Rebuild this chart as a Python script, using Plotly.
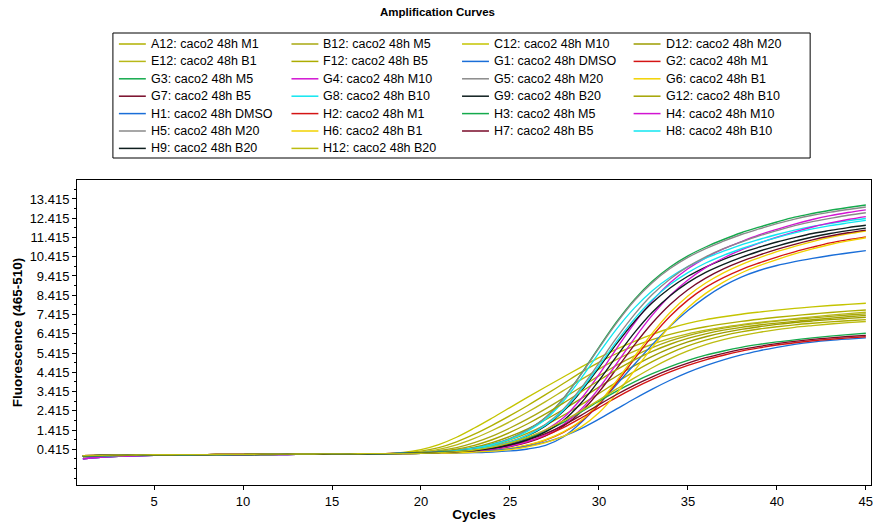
import plotly.graph_objects as go

# ---------------------------------------------------------------------------
# qPCR amplification data: fluorescence (465-510) per cycle, one list per well
# ---------------------------------------------------------------------------
CYCLES = list(range(1, 46))

X_TICKS = [5, 10, 15, 20, 25, 30, 35, 40, 45]
Y_TICKS = [0.415, 1.415, 2.415, 3.415, 4.415, 5.415, 6.415, 7.415,
           8.415, 9.415, 10.415, 11.415, 12.415, 13.415]
Y_TICK_LABELS = ["0.415", "1.415", "2.415", "3.415", "4.415", "5.415", "6.415",
                 "7.415", "8.415", "9.415", "10.415", "11.415", "12.415", "13.415"]

A12 = [0.06, 0.09, 0.10, 0.11, 0.12, 0.12, 0.13, 0.13, 0.14, 0.14, 0.15, 0.15, 0.16, 0.16, 0.16,
       0.17, 0.17, 0.18, 0.22, 0.32, 0.50, 0.80, 1.20, 1.66, 2.16, 2.69, 3.25, 3.83, 4.41, 4.93,
       5.39, 5.78, 6.11, 6.38, 6.60, 6.78, 6.93, 7.06, 7.17, 7.27, 7.36, 7.44, 7.52, 7.59, 7.65]
B12 = [-0.08, 0.00, 0.05, 0.08, 0.10, 0.11, 0.12, 0.12, 0.13, 0.13, 0.14, 0.14, 0.15, 0.15, 0.15,
       0.16, 0.16, 0.17, 0.20, 0.25, 0.34, 0.50, 0.76, 1.10, 1.52, 1.99, 2.51, 3.07, 3.65, 4.23,
       4.78, 5.27, 5.69, 6.04, 6.32, 6.54, 6.71, 6.85, 6.97, 7.07, 7.16, 7.24, 7.32, 7.39, 7.45]
C12 = [0.08, 0.10, 0.11, 0.12, 0.13, 0.13, 0.14, 0.14, 0.15, 0.15, 0.16, 0.16, 0.17, 0.17, 0.18,
       0.18, 0.19, 0.19, 0.25, 0.40, 0.66, 1.04, 1.52, 2.04, 2.58, 3.12, 3.65, 4.17, 4.68, 5.17,
       5.62, 6.02, 6.38, 6.70, 6.95, 7.15, 7.30, 7.43, 7.54, 7.64, 7.73, 7.81, 7.88, 7.94, 8.00]
D12 = [0.06, 0.09, 0.10, 0.11, 0.12, 0.12, 0.13, 0.13, 0.14, 0.14, 0.15, 0.15, 0.16, 0.16, 0.16,
       0.17, 0.17, 0.18, 0.19, 0.22, 0.27, 0.36, 0.52, 0.76, 1.08, 1.48, 1.95, 2.48, 3.05, 3.64,
       4.22, 4.76, 5.24, 5.65, 5.99, 6.26, 6.47, 6.64, 6.78, 6.90, 7.00, 7.08, 7.15, 7.21, 7.27]
E12 = [0.03, 0.07, 0.09, 0.10, 0.11, 0.12, 0.12, 0.13, 0.13, 0.14, 0.14, 0.15, 0.15, 0.16, 0.16,
       0.17, 0.17, 0.18, 0.21, 0.28, 0.41, 0.64, 0.98, 1.39, 1.85, 2.35, 2.89, 3.46, 4.03, 4.58,
       5.08, 5.51, 5.87, 6.17, 6.41, 6.60, 6.76, 6.89, 7.00, 7.10, 7.20, 7.29, 7.38, 7.46, 7.53]
F12 = [0.03, 0.07, 0.09, 0.10, 0.11, 0.12, 0.12, 0.13, 0.13, 0.14, 0.14, 0.15, 0.15, 0.16, 0.16,
       0.17, 0.17, 0.18, 0.18, 0.21, 0.25, 0.32, 0.44, 0.63, 0.90, 1.25, 1.68, 2.18, 2.73, 3.31,
       3.90, 4.46, 4.97, 5.41, 5.78, 6.08, 6.32, 6.51, 6.66, 6.78, 6.88, 6.96, 7.03, 7.09, 7.15]
G12 = [0.08, 0.10, 0.11, 0.12, 0.13, 0.13, 0.14, 0.14, 0.15, 0.15, 0.16, 0.16, 0.17, 0.17, 0.18,
       0.18, 0.19, 0.19, 0.19, 0.23, 0.30, 0.42, 0.62, 0.91, 1.29, 1.74, 2.25, 2.81, 3.40, 3.99,
       4.55, 5.06, 5.50, 5.87, 6.17, 6.41, 6.60, 6.75, 6.87, 6.97, 7.06, 7.14, 7.22, 7.30, 7.37]
H12 = [0.08, 0.10, 0.11, 0.12, 0.13, 0.13, 0.14, 0.14, 0.15, 0.15, 0.16, 0.16, 0.17, 0.17, 0.18,
       0.18, 0.19, 0.19, 0.19, 0.21, 0.24, 0.29, 0.38, 0.53, 0.75, 1.05, 1.43, 1.89, 2.41, 2.97,
       3.55, 4.12, 4.65, 5.12, 5.52, 5.85, 6.11, 6.32, 6.49, 6.63, 6.75, 6.84, 6.92, 6.99, 7.05]

G1 = [-0.08, 0.00, 0.05, 0.08, 0.10, 0.11, 0.12, 0.12, 0.13, 0.13, 0.14, 0.14, 0.15, 0.15, 0.15,
      0.16, 0.16, 0.17, 0.18, 0.20, 0.21, 0.22, 0.24, 0.27, 0.33, 0.43, 0.62, 1.05, 1.80, 2.75,
      3.78, 4.83, 5.85, 6.80, 7.62, 8.32, 8.90, 9.36, 9.70, 9.96, 10.16, 10.33, 10.48, 10.61, 10.73]
G2 = [0.08, 0.10, 0.11, 0.12, 0.13, 0.13, 0.14, 0.14, 0.15, 0.15, 0.16, 0.16, 0.17, 0.17, 0.18,
      0.18, 0.19, 0.19, 0.20, 0.21, 0.22, 0.25, 0.29, 0.35, 0.45, 0.63, 0.89, 1.29, 1.87, 2.75,
      3.88, 5.11, 6.29, 7.32, 8.16, 8.82, 9.33, 9.75, 10.09, 10.40, 10.67, 10.91, 11.13, 11.30, 11.45]
G3 = [0.06, 0.09, 0.10, 0.11, 0.12, 0.12, 0.13, 0.13, 0.14, 0.14, 0.15, 0.15, 0.16, 0.16, 0.16,
      0.17, 0.17, 0.18, 0.21, 0.24, 0.30, 0.37, 0.48, 0.68, 0.97, 1.43, 2.07, 3.06, 4.33, 5.71,
      7.04, 8.20, 9.14, 9.88, 10.46, 10.92, 11.31, 11.66, 11.95, 12.22, 12.47, 12.66, 12.83, 12.97, 13.10]
G4 = [-0.08, 0.00, 0.05, 0.08, 0.10, 0.11, 0.12, 0.12, 0.13, 0.13, 0.14, 0.14, 0.15, 0.15, 0.15,
      0.16, 0.16, 0.17, 0.20, 0.22, 0.25, 0.30, 0.37, 0.48, 0.67, 0.97, 1.41, 2.05, 3.04, 4.29,
      5.66, 6.97, 8.12, 9.06, 9.79, 10.36, 10.82, 11.20, 11.55, 11.84, 12.11, 12.35, 12.55, 12.71, 12.85]
G5 = [0.03, 0.07, 0.09, 0.10, 0.11, 0.12, 0.12, 0.13, 0.13, 0.14, 0.14, 0.15, 0.15, 0.16, 0.16,
      0.17, 0.17, 0.18, 0.21, 0.24, 0.30, 0.37, 0.48, 0.67, 0.97, 1.42, 2.06, 3.04, 4.30, 5.67,
      6.98, 8.14, 9.07, 9.80, 10.38, 10.84, 11.22, 11.57, 11.86, 12.13, 12.37, 12.57, 12.73, 12.87, 13.00]
G6 = [0.06, 0.09, 0.10, 0.11, 0.12, 0.12, 0.13, 0.13, 0.14, 0.14, 0.15, 0.15, 0.16, 0.16, 0.16,
      0.17, 0.17, 0.18, 0.19, 0.20, 0.22, 0.25, 0.29, 0.35, 0.46, 0.64, 0.91, 1.32, 1.91, 2.82,
      3.98, 5.24, 6.45, 7.52, 8.38, 9.05, 9.58, 10.01, 10.36, 10.68, 10.95, 11.20, 11.42, 11.60, 11.75]
G7 = [0.03, 0.07, 0.09, 0.10, 0.11, 0.12, 0.12, 0.13, 0.13, 0.14, 0.14, 0.15, 0.15, 0.16, 0.16,
      0.17, 0.17, 0.18, 0.20, 0.22, 0.24, 0.27, 0.32, 0.41, 0.55, 0.77, 1.11, 1.61, 2.36, 3.39,
      4.60, 5.84, 6.97, 7.93, 8.70, 9.30, 9.78, 10.17, 10.50, 10.80, 11.06, 11.29, 11.49, 11.66, 11.80]
G8 = [0.06, 0.09, 0.10, 0.11, 0.12, 0.12, 0.13, 0.13, 0.14, 0.14, 0.15, 0.15, 0.16, 0.16, 0.16,
      0.17, 0.17, 0.18, 0.21, 0.24, 0.30, 0.36, 0.47, 0.65, 0.93, 1.36, 1.97, 2.91, 4.10, 5.41,
      6.67, 7.76, 8.65, 9.35, 9.90, 10.34, 10.70, 11.03, 11.31, 11.57, 11.80, 11.99, 12.14, 12.28, 12.40]
G9 = [0.08, 0.10, 0.11, 0.12, 0.13, 0.13, 0.14, 0.14, 0.15, 0.15, 0.16, 0.16, 0.17, 0.17, 0.18,
      0.18, 0.19, 0.19, 0.21, 0.23, 0.27, 0.33, 0.41, 0.55, 0.78, 1.12, 1.63, 2.39, 3.43, 4.65,
      5.90, 7.05, 8.02, 8.79, 9.40, 9.88, 10.28, 10.62, 10.91, 11.18, 11.41, 11.62, 11.78, 11.93, 12.05]

H1 = [-0.08, 0.00, 0.05, 0.08, 0.10, 0.11, 0.12, 0.12, 0.13, 0.13, 0.14, 0.14, 0.15, 0.15, 0.15,
      0.16, 0.16, 0.17, 0.18, 0.20, 0.22, 0.25, 0.29, 0.35, 0.44, 0.58, 0.79, 1.09, 1.49, 1.98,
      2.51, 3.04, 3.54, 4.00, 4.41, 4.76, 5.06, 5.32, 5.53, 5.71, 5.86, 5.98, 6.07, 6.14, 6.20]
H2 = [0.08, 0.10, 0.11, 0.12, 0.13, 0.13, 0.14, 0.14, 0.15, 0.15, 0.16, 0.16, 0.17, 0.17, 0.18,
      0.18, 0.19, 0.19, 0.20, 0.22, 0.25, 0.29, 0.35, 0.45, 0.60, 0.82, 1.13, 1.54, 2.04, 2.58,
      3.11, 3.60, 4.04, 4.43, 4.77, 5.06, 5.30, 5.51, 5.68, 5.83, 5.95, 6.05, 6.13, 6.20, 6.26]
H3 = [0.06, 0.09, 0.10, 0.11, 0.12, 0.12, 0.13, 0.13, 0.14, 0.14, 0.15, 0.15, 0.16, 0.16, 0.16,
      0.17, 0.17, 0.18, 0.20, 0.23, 0.27, 0.32, 0.40, 0.53, 0.72, 0.99, 1.35, 1.81, 2.35, 2.91,
      3.44, 3.92, 4.34, 4.71, 5.03, 5.30, 5.52, 5.71, 5.86, 5.99, 6.10, 6.20, 6.29, 6.37, 6.44]
H4 = [-0.08, 0.00, 0.05, 0.08, 0.10, 0.11, 0.12, 0.12, 0.13, 0.13, 0.14, 0.14, 0.15, 0.15, 0.15,
      0.16, 0.16, 0.17, 0.19, 0.21, 0.24, 0.27, 0.33, 0.42, 0.57, 0.81, 1.17, 1.70, 2.49, 3.58,
      4.87, 6.18, 7.38, 8.40, 9.21, 9.85, 10.35, 10.77, 11.12, 11.43, 11.71, 11.96, 12.17, 12.35, 12.50]
H5 = [0.08, 0.10, 0.11, 0.12, 0.13, 0.13, 0.14, 0.14, 0.15, 0.15, 0.16, 0.16, 0.17, 0.17, 0.18,
      0.18, 0.19, 0.19, 0.21, 0.24, 0.28, 0.33, 0.42, 0.57, 0.81, 1.17, 1.71, 2.50, 3.60, 4.89,
      6.21, 7.42, 8.45, 9.26, 9.90, 10.41, 10.83, 11.18, 11.50, 11.77, 12.03, 12.24, 12.41, 12.57, 12.70]
H6 = [0.03, 0.07, 0.09, 0.10, 0.11, 0.12, 0.12, 0.13, 0.13, 0.14, 0.14, 0.15, 0.15, 0.16, 0.16,
      0.17, 0.17, 0.18, 0.19, 0.20, 0.22, 0.23, 0.27, 0.32, 0.40, 0.54, 0.76, 1.09, 1.58, 2.31,
      3.32, 4.50, 5.71, 6.82, 7.76, 8.51, 9.10, 9.57, 9.95, 10.27, 10.56, 10.82, 11.05, 11.24, 11.40]
H7 = [0.03, 0.07, 0.09, 0.10, 0.11, 0.12, 0.12, 0.13, 0.13, 0.14, 0.14, 0.15, 0.15, 0.16, 0.16,
      0.17, 0.17, 0.18, 0.20, 0.23, 0.26, 0.30, 0.37, 0.48, 0.65, 0.90, 1.23, 1.66, 2.18, 2.73,
      3.26, 3.75, 4.18, 4.56, 4.89, 5.17, 5.40, 5.60, 5.76, 5.90, 6.02, 6.12, 6.20, 6.27, 6.33]
H8 = [0.03, 0.07, 0.09, 0.10, 0.11, 0.12, 0.12, 0.13, 0.13, 0.14, 0.14, 0.15, 0.15, 0.16, 0.16,
      0.17, 0.17, 0.18, 0.21, 0.23, 0.27, 0.33, 0.41, 0.56, 0.79, 1.14, 1.66, 2.43, 3.50, 4.74,
      6.02, 7.19, 8.18, 8.97, 9.59, 10.09, 10.49, 10.83, 11.14, 11.41, 11.65, 11.86, 12.03, 12.17, 12.30]
H9 = [0.06, 0.09, 0.10, 0.11, 0.12, 0.12, 0.13, 0.13, 0.14, 0.14, 0.15, 0.15, 0.16, 0.16, 0.16,
      0.17, 0.17, 0.18, 0.20, 0.22, 0.25, 0.29, 0.35, 0.46, 0.64, 0.91, 1.32, 1.91, 2.82, 3.98,
      5.25, 6.47, 7.53, 8.39, 9.07, 9.60, 10.02, 10.38, 10.70, 10.97, 11.22, 11.44, 11.62, 11.77, 11.90]

# Wells in legend order (row by row, four per row)
WELLS = [
    ("A12: caco2 48h M1", A12, "#B0B000"),
    ("B12: caco2 48h M5", B12, "#A8A810"),
    ("C12: caco2 48h M10", C12, "#C4C400"),
    ("D12: caco2 48h M20", D12, "#9C9C00"),
    ("E12: caco2 48h B1", E12, "#B8B818"),
    ("F12: caco2 48h B5", F12, "#ACAC00"),
    ("G1: caco2 48h DMSO", G1, "#1A6ED8"),
    ("G2: caco2 48h M1", G2, "#D41414"),
    ("G3: caco2 48h M5", G3, "#14AA4C"),
    ("G4: caco2 48h M10", G4, "#D214D2"),
    ("G5: caco2 48h M20", G5, "#8A8A8A"),
    ("G6: caco2 48h B1", G6, "#F2D200"),
    ("G7: caco2 48h B5", G7, "#780A28"),
    ("G8: caco2 48h B10", G8, "#10E6F0"),
    ("G9: caco2 48h B20", G9, "#0E1E1E"),
    ("G12: caco2 48h B10", G12, "#A4A400"),
    ("H1: caco2 48h DMSO", H1, "#1A6ED8"),
    ("H2: caco2 48h M1", H2, "#D41414"),
    ("H3: caco2 48h M5", H3, "#14AA4C"),
    ("H4: caco2 48h M10", H4, "#D214D2"),
    ("H5: caco2 48h M20", H5, "#8A8A8A"),
    ("H6: caco2 48h B1", H6, "#F2D200"),
    ("H7: caco2 48h B5", H7, "#780A28"),
    ("H8: caco2 48h B10", H8, "#10E6F0"),
    ("H9: caco2 48h B20", H9, "#0E1E1E"),
    ("H12: caco2 48h B20", H12, "#BCBC10"),
]

# ---------------------------------------------------------------------------
# Page geometry (pixels)
# ---------------------------------------------------------------------------
W, H = 875, 527
PL, PR, PT, PB = 77, 873, 180, 485          # plot-area edges
FONT = "Liberation Sans, Arial, sans-serif"


def to_paper(x, y):
    """Convert a page pixel position into paper coordinates."""
    return (x - PL) / (PR - PL), (PB - y) / (PB - PT)


fig = go.Figure()
for name, vals, color in WELLS:
    assert len(vals) == len(CYCLES), name
    fig.add_trace(go.Scatter(
        x=CYCLES, y=vals, mode="lines", name=name, showlegend=False,
        line=dict(color=color, width=1.35, shape="spline", smoothing=1.0),
    ))

# Boxed legend: four columns of short colour strokes with their labels
shapes, annotations = [], []
bx0, by0 = to_paper(113, 158)
bx1, by1 = to_paper(812, 33)
shapes.append(dict(type="rect", xref="paper", yref="paper", x0=bx0, y0=by0, x1=bx1, y1=by1,
                   line=dict(color="#000000", width=1), fillcolor="white", layer="above"))
COL_X = [119, 292, 463, 635]
ROW_Y = [44, 61.4, 78.8, 96.2, 113.6, 131.0, 148.4]
for i, (name, _, color) in enumerate(WELLS):
    r, c = divmod(i, 4)
    lx0, ly = to_paper(COL_X[c], ROW_Y[r])
    lx1, _ = to_paper(COL_X[c] + 27, ROW_Y[r])
    shapes.append(dict(type="line", xref="paper", yref="paper", x0=lx0, x1=lx1, y0=ly, y1=ly,
                       line=dict(color=color, width=1.5), layer="above"))
    tx, ty = to_paper(COL_X[c] + 30, ROW_Y[r])
    annotations.append(dict(xref="paper", yref="paper", x=tx, y=ty, text=name, showarrow=False,
                            xanchor="left", yanchor="middle",
                            font=dict(family=FONT, size=12.5, color="#000000")))

axis_common = dict(showgrid=False, zeroline=False, showline=True, mirror=True,
                   linecolor="#000000", linewidth=1, ticks="outside", ticklen=4,
                   tickcolor="#000000", ticklabeloverflow="allow",
                   tickfont=dict(family=FONT, size=13, color="#000000"))

fig.update_layout(
    width=W, height=H,
    margin=dict(l=PL, r=W - PR, t=PT, b=H - PB, pad=0),
    paper_bgcolor="white", plot_bgcolor="white",
    title=dict(text="<b>Amplification Curves</b>", x=0.5, xanchor="center",
               y=1 - 12 / H, yanchor="middle", xref="container", yref="container",
               font=dict(family=FONT, size=11.5, color="#000000")),
    xaxis=dict(range=[0.67, 45.29], tickvals=X_TICKS,
               title=dict(text="<b>Cycles</b>", standoff=1,
                          font=dict(family=FONT, size=13.5, color="#000000")),
               **axis_common),
    yaxis=dict(range=[-1.44, 14.40], tickvals=Y_TICKS, ticktext=Y_TICK_LABELS,
               minor=dict(dtick=0.5, tick0=0.415, ticklen=2, ticks="outside", tickcolor="#000000"),
               title=dict(text="<b>Fluorescence (465-510)</b>", standoff=3,
                          font=dict(family=FONT, size=13.5, color="#000000")),
               **axis_common),
    shapes=shapes, annotations=annotations,
)

fig.write_html("out.html")
